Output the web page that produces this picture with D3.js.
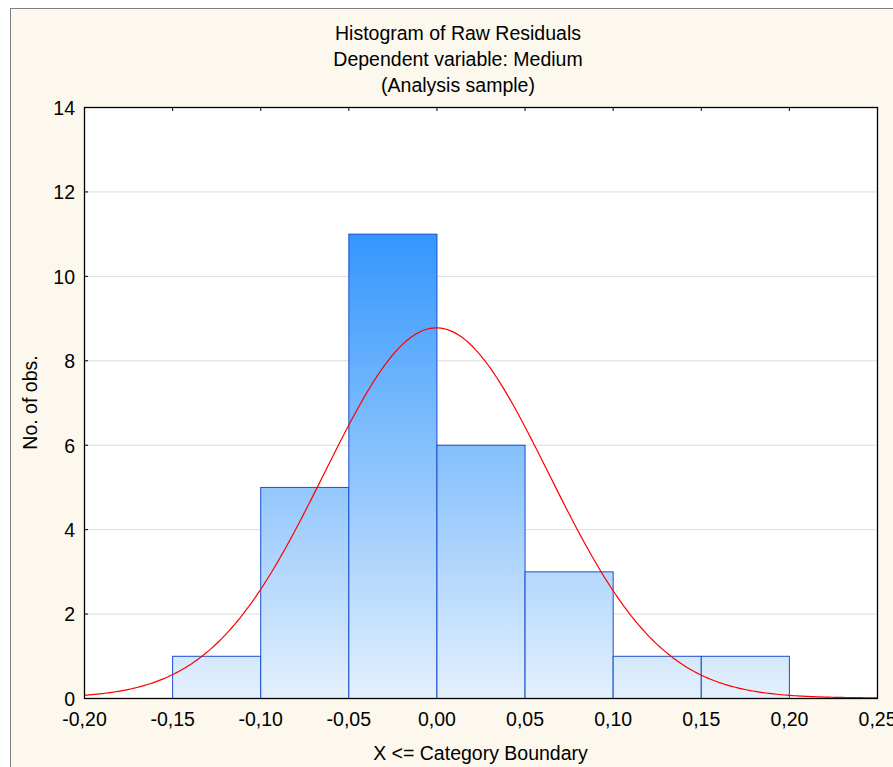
<!DOCTYPE html>
<html>
<head>
<meta charset="utf-8">
<script src="https://cdn.jsdelivr.net/npm/d3@7"></script>
<style>
  body { margin: 0; background: #fff; }
  text { font-family: "Liberation Sans", Arial, sans-serif; fill: #000; }
</style>
</head>
<body>
<svg id="chart" width="893" height="767"></svg>
<script>
// Histogram bins (lower edge) and counts
const binStarts = [-0.15, -0.10, -0.05, 0.00, 0.05, 0.10, 0.15];
const binWidth = 0.05;
const counts = [1, 5, 11, 6, 3, 1, 1];

// Fitted normal curve parameters
const fitMean = 0.0;
const fitSd = 0.0637;
const nObs = 28;

const xTicks = [-0.20, -0.15, -0.10, -0.05, 0.00, 0.05, 0.10, 0.15, 0.20, 0.25];
const yTicks = [0, 2, 4, 6, 8, 10, 12, 14];

const titleLines = ["Histogram of Raw Residuals", "Dependent variable: Medium", "(Analysis sample)"];

const svg = d3.select("#chart");
const margin = { left: 84, top: 107, right: 877, bottom: 698 };
const fontSize = 19.5;

// Outer panel
svg.append("rect")
  .attr("x", 10.5).attr("y", 8.5)
  .attr("width", 920).attr("height", 800)
  .attr("fill", "#fdf8ee")
  .attr("stroke", "#7f7f7f")
  .attr("stroke-width", 1);

const x = d3.scaleLinear().domain([-0.20, 0.25]).range([margin.left, margin.right]);
const y = d3.scaleLinear().domain([0, 14]).range([margin.bottom, margin.top]);

// Plot background
svg.append("rect")
  .attr("x", margin.left).attr("y", margin.top)
  .attr("width", margin.right - margin.left)
  .attr("height", margin.bottom - margin.top)
  .attr("fill", "#fff");

// Gridlines
svg.append("g")
  .selectAll("line")
  .data(yTicks.filter((d) => d > 0 && d < 14))
  .enter()
  .append("line")
  .attr("x1", margin.left).attr("x2", margin.right)
  .attr("y1", (d) => y(d) + 0.5).attr("y2", (d) => y(d) + 0.5)
  .attr("stroke", "#dcdcdc")
  .attr("stroke-width", 1);

// Gradient for bars, spans user space
const defs = svg.append("defs");
const grad = defs.append("linearGradient")
  .attr("id", "barGrad")
  .attr("gradientUnits", "userSpaceOnUse")
  .attr("x1", 0).attr("x2", 0)
  .attr("y1", y(11)).attr("y2", y(0));
grad.append("stop").attr("offset", "0%").attr("stop-color", "#3396fd");
grad.append("stop").attr("offset", "100%").attr("stop-color", "#e4f0fc");

// Bars
svg.append("g")
  .selectAll("rect")
  .data(binStarts.map((s, i) => ({ start: s, count: counts[i] })))
  .enter()
  .append("rect")
  .attr("x", (d) => x(d.start) + 0.5)
  .attr("y", (d) => y(d.count) + 0.5)
  .attr("width", (d) => x(d.start + binWidth) - x(d.start))
  .attr("height", (d) => y(0) - y(d.count))
  .attr("fill", "url(#barGrad)")
  .attr("stroke", "#1a4fcf")
  .attr("stroke-width", 1);

// Normal curve
const curveX = d3.range(0, 301).map((i) => -0.20 + (0.45 * i) / 300);
const normal = (v) =>
  (nObs * binWidth) / (fitSd * Math.sqrt(2 * Math.PI)) *
  Math.exp(-0.5 * Math.pow((v - fitMean) / fitSd, 2));

svg.append("path")
  .datum(curveX)
  .attr("d", d3.line().x((d) => x(d)).y((d) => y(normal(d))))
  .attr("fill", "none")
  .attr("stroke", "#ff0000")
  .attr("stroke-width", 1.2);

// Plot frame
svg.append("rect")
  .attr("x", margin.left + 0.5).attr("y", margin.top + 0.5)
  .attr("width", margin.right - margin.left)
  .attr("height", margin.bottom - margin.top)
  .attr("fill", "none")
  .attr("stroke", "#000")
  .attr("stroke-width", 1.3);

const fmt = (d) => d3.format(".2f")(d).replace(".", ",").replace("−", "-");

// X axis labels
svg.append("g")
  .attr("transform", `translate(0,${margin.bottom})`)
  .call(d3.axisBottom(x).tickValues(xTicks).tickSize(0).tickPadding(28).tickFormat(fmt))
  .call((g) => g.select(".domain").remove())
  .call((g) => g.selectAll("text").attr("font-size", fontSize).attr("dy", 0)
    .attr("font-family", "Liberation Sans, Arial, sans-serif"));

// Top inner ticks
svg.append("g")
  .selectAll("line")
  .data(xTicks.slice(1, -1))
  .enter()
  .append("line")
  .attr("x1", (d) => x(d) + 0.5).attr("x2", (d) => x(d) + 0.5)
  .attr("y1", margin.top).attr("y2", margin.top + 4)
  .attr("stroke", "#000");

// Y axis labels
svg.append("g")
  .attr("transform", `translate(${margin.left},0)`)
  .call(d3.axisLeft(y).tickValues(yTicks).tickSize(0).tickPadding(9).tickFormat(d3.format("d")))
  .call((g) => g.select(".domain").remove())
  .call((g) => g.selectAll("text").attr("font-size", fontSize).attr("dy", "0.38em")
    .attr("font-family", "Liberation Sans, Arial, sans-serif"));

// Left inner ticks
svg.append("g")
  .selectAll("line")
  .data(yTicks.slice(1, -1))
  .enter()
  .append("line")
  .attr("x1", margin.left).attr("x2", margin.left + 4)
  .attr("y1", (d) => y(d) + 0.5).attr("y2", (d) => y(d) + 0.5)
  .attr("stroke", "#000");

// Titles
svg.append("g")
  .selectAll("text")
  .data(titleLines)
  .enter()
  .append("text")
  .attr("x", 458)
  .attr("y", (d, i) => 40 + i * 26)
  .attr("text-anchor", "middle")
  .attr("font-size", fontSize)
  .text((d) => d);

// Axis titles
svg.append("text")
  .attr("x", (margin.left + margin.right) / 2)
  .attr("y", 760)
  .attr("text-anchor", "middle")
  .attr("font-size", fontSize)
  .text("X <= Category Boundary");

svg.append("text")
  .attr("transform", `translate(37,${(margin.top + margin.bottom) / 2}) rotate(-90)`)
  .attr("text-anchor", "middle")
  .attr("font-size", fontSize)
  .text("No. of obs.");
</script>
</body>
</html>
